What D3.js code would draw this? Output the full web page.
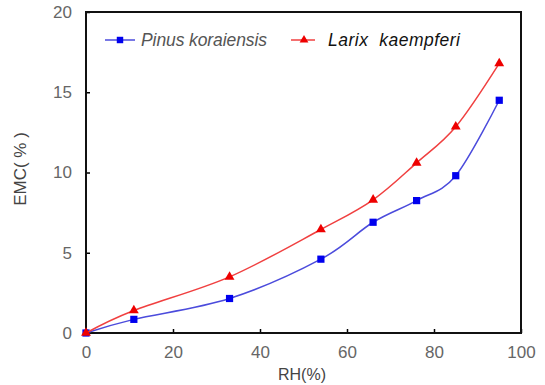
<!DOCTYPE html>
<html>
<head>
<meta charset="utf-8">
<script src="https://cdn.jsdelivr.net/npm/d3@7"></script>
<style>
  body { margin: 0; background: #fff; }
  svg { display: block; }
</style>
</head>
<body>
<div id="chart"></div>
<script>
// Relative humidity (x) and EMC for each species
const rh = [0, 11, 33, 54, 66, 76, 85, 95];
const pinus = [0, 0.85, 2.15, 4.6, 6.9, 8.25, 9.8, 14.5];
const larix = [0, 1.4, 3.5, 6.45, 8.3, 10.6, 12.85, 16.8];
const xTicks = [0, 20, 40, 60, 80, 100];
const yTicks = [0, 5, 10, 15, 20];

const width = 545;
const height = 385;
const margin = { top: 12, right: 24, bottom: 52, left: 86 };

const svg = d3.select('#chart')
  .append('svg')
  .attr('width', width)
  .attr('height', height);

const x = d3.scaleLinear().domain([0, 100]).range([margin.left, width - margin.right]);
const y = d3.scaleLinear().domain([0, 20]).range([height - margin.bottom, margin.top]);

const font = '"Liberation Sans", Arial, sans-serif';

// Inward ticks on the x axis
const xAxis = svg.append('g')
  .attr('transform', `translate(0, ${y(0)})`)
  .call(d3.axisBottom(x).tickValues(xTicks).tickSizeInner(-4).tickSizeOuter(0).tickPadding(13));
xAxis.select('.domain').remove();
xAxis.selectAll('line').attr('stroke', '#000').attr('stroke-width', 1.5);
xAxis.selectAll('text')
  .style('font-family', font)
  .style('font-size', '17px')
  .attr('fill', '#666');

// Inward ticks on the y axis
const yAxis = svg.append('g')
  .attr('transform', `translate(${x(0)}, 0)`)
  .call(d3.axisLeft(y).tickValues(yTicks).tickSizeInner(-4).tickSizeOuter(0).tickPadding(14));
yAxis.select('.domain').remove();
yAxis.selectAll('line').attr('stroke', '#000').attr('stroke-width', 1.5);
yAxis.selectAll('text')
  .style('font-family', font)
  .style('font-size', '17px')
  .attr('fill', '#666');

// Plot frame
svg.append('rect')
  .attr('x', x(0))
  .attr('y', y(20))
  .attr('width', x(100) - x(0))
  .attr('height', y(0) - y(20))
  .attr('fill', 'none')
  .attr('stroke', '#111')
  .attr('stroke-width', 2);

// Axis titles
svg.append('text')
  .attr('x', 302)
  .attr('y', 380)
  .attr('text-anchor', 'middle')
  .style('font-family', font)
  .style('font-size', '16px')
  .attr('fill', '#444')
  .text('RH(%)');

svg.append('text')
  .attr('transform', `translate(26, 169) rotate(-90)`)
  .attr('text-anchor', 'middle')
  .style('font-family', font)
  .style('font-size', '17px')
  .style('white-space', 'pre')
  .attr('fill', '#444')
  .text('EMC( % )');

const series = [
  { name: 'Pinus koraiensis', values: pinus, line: '#4b4bdc', mark: '#0000ee', shape: d3.symbolSquare, size: 52, text: '#555', len: 126 },
  { name: 'Larix  kaempferi', values: larix, line: '#f04040', mark: '#ee0000', shape: d3.symbolTriangle, size: 42, text: '#111', len: 132 }
];

const line = d3.line()
  .x(d => x(d[0]))
  .y(d => y(d[1]))
  .curve(d3.curveCatmullRom.alpha(0));

series.forEach(s => {
  const pts = rh.map((r, i) => [r, s.values[i]]);
  svg.append('path')
    .datum(pts)
    .attr('d', line)
    .attr('fill', 'none')
    .attr('stroke', s.line)
    .attr('stroke-width', 1.5);
  svg.selectAll(null)
    .data(pts)
    .enter()
    .append('path')
    .attr('d', d3.symbol().type(s.shape).size(s.size))
    .attr('transform', d => `translate(${x(d[0])}, ${y(d[1])})`)
    .attr('fill', s.mark);
});

// Legend
const legendPos = [{ x: 105, tx: 141 }, { x: 291, tx: 328 }];
series.forEach((s, i) => {
  const p = legendPos[i];
  const g = svg.append('g').attr('transform', `translate(${p.x}, 40)`);
  g.append('line')
    .attr('x1', 0).attr('x2', i === 0 ? 30 : 24)
    .attr('stroke', s.line).attr('stroke-width', 1.5);
  g.append('path')
    .attr('d', d3.symbol().type(s.shape).size(s.size * 0.8))
    .attr('transform', `translate(${i === 0 ? 15 : 13}, 0)`)
    .attr('fill', s.mark);
  svg.append('text')
    .attr('x', p.tx)
    .attr('y', 46)
    .attr('textLength', s.len)
    .attr('lengthAdjust', 'spacing')
    .style('font-family', font)
    .style('font-size', '17.5px')
    .style('font-style', 'italic')
    .style('white-space', 'pre')
    .attr('fill', s.text)
    .text(s.name);
});
</script>
</body>
</html>
